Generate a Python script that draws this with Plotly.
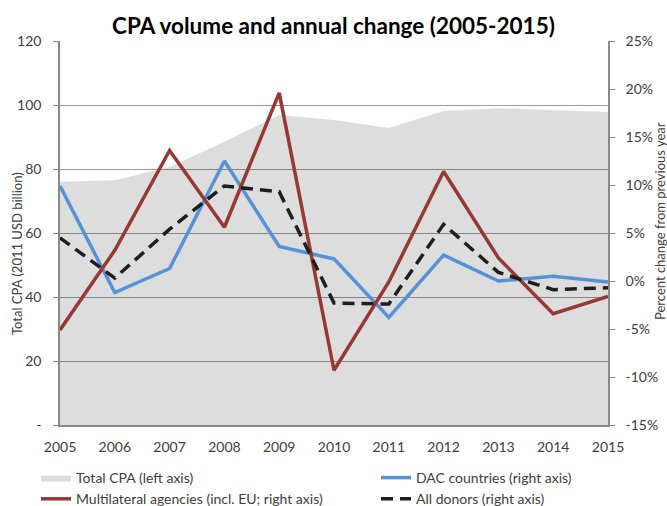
import plotly.graph_objects as go

years = [2005, 2006, 2007, 2008, 2009, 2010, 2011, 2012, 2013, 2014, 2015]
total_cpa = [76.0, 76.5, 80.6, 88.5, 96.9, 95.3, 92.8, 98.1, 99.0, 98.4, 97.8]
dac_change = [9.9, -1.2, 1.3, 12.5, 3.6, 2.3, -3.8, 2.7, 0.0, 0.5, -0.1]
multi_change = [-5.1, 3.2, 13.6, 5.6, 19.6, -9.3, -0.1, 11.4, 2.4, -3.4, -1.6]
all_change = [4.5, 0.3, 5.4, 9.9, 9.3, -2.3, -2.4, 5.9, 0.9, -0.9, -0.7]

left_ticks = [0, 20, 40, 60, 80, 100, 120]
left_labels = ["-", "20", "40", "60", "80", "100", "120"]
right_ticks = [-15, -10, -5, 0, 5, 10, 15, 20, 25]
right_labels = [f"{v}%" for v in right_ticks]

FONT = "Lato"
TXT = "#404040"
AX = "#888888"

W, H = 667, 506
L, R, T, B = 60, 59, 41, 81
PW, PH = W - L - R, H - T - B

fig = go.Figure()
fig.add_trace(go.Scatter(
    x=years, y=total_cpa, name="Total CPA (left axis)", mode="lines",
    fill="tozeroy", fillcolor="rgba(0,0,0,0.135)", line=dict(width=0, color="rgba(0,0,0,0)"),
    yaxis="y", legend="legend"))
fig.add_trace(go.Scatter(
    x=years, y=dac_change, name="DAC countries (right axis)", mode="lines",
    line=dict(color="#5592D8", width=3.5), yaxis="y2", legend="legend2"))
fig.add_trace(go.Scatter(
    x=years, y=multi_change, name="Multilateral agencies (incl. EU; right axis)", mode="lines",
    line=dict(color="#963836", width=3.5), yaxis="y2", legend="legend"))
fig.add_trace(go.Scatter(
    x=years, y=all_change, name="All donors (right axis)", mode="lines",
    line=dict(color="#1e1e1e", width=3.5, dash="12px,7px"), yaxis="y2", legend="legend2"))

leg_common = dict(orientation="v", yanchor="top", tracegroupgap=0,
                  font=dict(family=FONT, size=14, color=TXT), bgcolor="rgba(0,0,0,0)",
                  itemwidth=30)

fig.update_layout(
    width=W, height=H,
    margin=dict(l=L, r=R, t=T, b=B, autoexpand=False),
    paper_bgcolor="white", plot_bgcolor="white",
    font=dict(family=FONT, color=TXT, size=13),
    title=dict(text="<b>CPA volume and annual change (2005-2015)</b>",
               x=0.5, xanchor="center", y=1 - 26 / H, yanchor="middle",
               font=dict(family=FONT, size=22.5, color="black")),
    xaxis=dict(range=[2005, 2015], tickmode="array", tickvals=years,
               ticktext=[str(y) for y in years], showgrid=False,
               showline=True, linecolor=AX, linewidth=1.5,
               ticks="outside", ticklen=8, tickcolor="rgba(0,0,0,0)",
               tickfont=dict(size=14, color=TXT), zeroline=False, automargin=False),
    yaxis=dict(range=[0, 120], tickmode="array", tickvals=left_ticks, ticktext=left_labels,
               showgrid=True, gridcolor="#9a9a9a", gridwidth=1.2,
               showline=True, linecolor=AX, linewidth=1.5,
               ticks="outside", ticklen=5, tickcolor=AX, zeroline=False,
               ticklabelstandoff=9, automargin=False,
               tickfont=dict(size=14, color=TXT)),
    yaxis2=dict(range=[-15, 25], overlaying="y", side="right", tickmode="array",
                tickvals=right_ticks, ticktext=right_labels, showgrid=False,
                showline=True, linecolor=AX, linewidth=1.5,
                ticks="outside", ticklen=5, tickcolor=AX, zeroline=False,
                ticklabelstandoff=8, automargin=False,
                tickfont=dict(size=14, color=TXT)),
    legend=dict(x=(36 - L) / PW, y=-(462 - (T + PH)) / PH, xanchor="left", **leg_common),
    legend2=dict(x=(376 - L) / PW, y=-(462 - (T + PH)) / PH, xanchor="left", **leg_common),
    showlegend=True,
    annotations=[
        dict(text="Total CPA (2011 USD billion)", textangle=-90, showarrow=False,
             xref="paper", yref="paper", x=(17 - L) / PW, y=1 - (254 - T) / PH,
             xanchor="center", yanchor="middle", font=dict(size=13, color=TXT)),
        dict(text="Percent change from previous year", textangle=-90, showarrow=False,
             xref="paper", yref="paper", x=(660 - L) / PW, y=1 - (221 - T) / PH,
             xanchor="center", yanchor="middle", font=dict(size=13, color=TXT)),
    ],
)

fig.write_html("out.html", config={"displayModeBar": False},
               post_script="document.body.style.margin='0';document.body.style.overflow='hidden';")
